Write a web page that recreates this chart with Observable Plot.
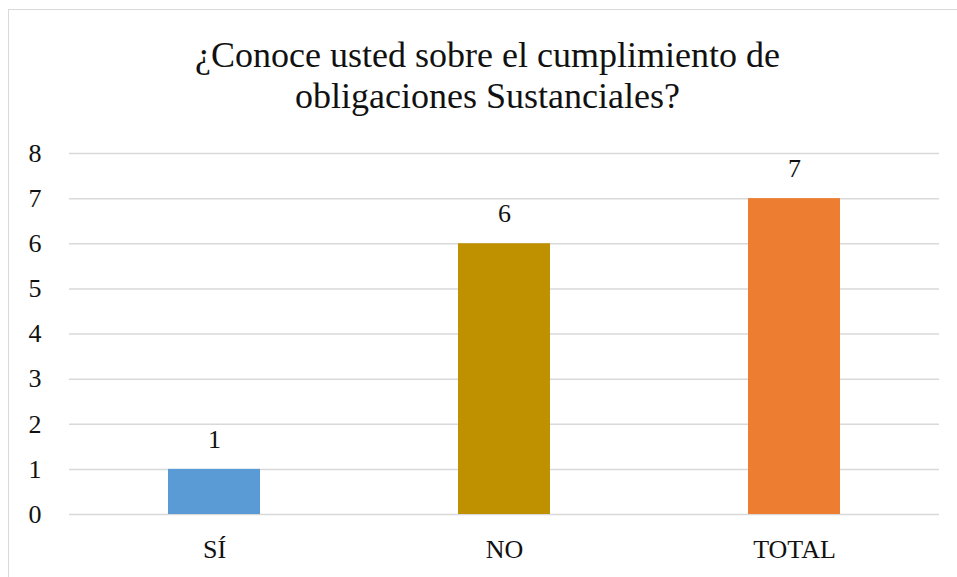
<!DOCTYPE html>
<html>
<head>
<meta charset="utf-8">
<script src="https://cdn.jsdelivr.net/npm/d3@7"></script>
<script src="https://cdn.jsdelivr.net/npm/@observablehq/plot@0.6"></script>
<style>
  html, body { margin: 0; padding: 0; background: #fff; overflow: hidden; }
  #wrap { position: relative; width: 957px; height: 577px; }
  #frame { position: absolute; left: 8px; top: 9px; width: 1000px; height: 600px;
           border-left: 1.5px solid #d9d9d9; border-top: 1.5px solid #d9d9d9; }
  #title { position: absolute; left: 0; top: 35px; width: 975px; text-align: center;
           font-family: 'Liberation Serif', 'DejaVu Serif', serif; font-size: 36px;
           line-height: 41px; color: #111; }
  #chart { position: absolute; left: 0; top: 140px; }
</style>
</head>
<body>
<div id="wrap">
  <div id="frame"></div>
  <div id="title">¿Conoce usted sobre el cumplimiento de<br>obligaciones Sustanciales?</div>
  <div id="chart"></div>
</div>
<script>
const categories = ["SÍ", "NO", "TOTAL"];
const values = [1, 6, 7];
const colors = ["#5B9BD5", "#BF9000", "#ED7D31"];
const yTicks = [0, 1, 2, 3, 4, 5, 6, 7, 8];

const data = categories.map((c, i) => ({ cat: c, value: values[i] }));

const plot = Plot.plot({
  width: 957,
  height: 437,
  marginTop: 13,
  marginBottom: 63,
  marginLeft: 69,
  marginRight: 18,
  style: { fontFamily: "'Liberation Serif', 'DejaVu Serif', serif", fontSize: "26px", color: "#111", background: "transparent" },
  x: { domain: categories, paddingInner: 0.683, paddingOuter: 0.3415, label: null },
  y: { domain: [0, 8], label: null },
  color: { domain: categories, range: colors },
  marks: [
    Plot.ruleY(yTicks, { stroke: "#d9d9d9", strokeWidth: 1.5 }),
    Plot.barY(data, { x: "cat", y: "value", fill: "cat" }),
    Plot.text(data, { x: "cat", y: "value", text: d => String(d.value), dy: -30, fontSize: 26, fill: "#111" }),
    Plot.axisY(yTicks, { tickSize: 0, tickPadding: 28, fontSize: 26, label: null }),
    Plot.axisX({ tickSize: 0, tickPadding: 25, fontSize: 26, label: null })
  ]
});
document.getElementById("chart").appendChild(plot);
</script>
</body>
</html>
